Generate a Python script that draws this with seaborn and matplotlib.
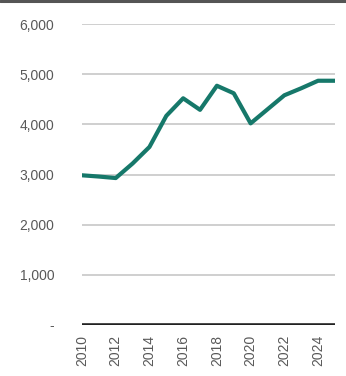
import matplotlib
matplotlib.use("Agg")
import matplotlib.pyplot as plt
import seaborn as sns
import pandas as pd
from matplotlib.lines import Line2D

years = list(range(2010, 2026))
values = [2985, 2960, 2930, 3220, 3550, 4170, 4520, 4290, 4770, 4620, 4020, 4300, 4580, 4720, 4870, 4870]
y_ticks = [0, 1000, 2000, 3000, 4000, 5000, 6000]
y_labels = ["-", "1,000", "2,000", "3,000", "4,000", "5,000", "6,000"]
x_ticks = [2010, 2012, 2014, 2016, 2018, 2020, 2022, 2024]

df = pd.DataFrame({"year": years, "value": values})

sns.set_theme(style="white")
plt.rcParams["font.family"] = ["Liberation Sans", "DejaVu Sans"]

fig = plt.figure(figsize=(3.46, 3.76), dpi=100)
ax = fig.add_axes([0.237, 0.1356, 0.731, 0.8004])

for t in y_ticks[1:]:
    ax.axhline(t, color="#cfcfcf", lw=1.4, zorder=1)
ax.axhline(0, color="#222222", lw=2.6, zorder=3, solid_capstyle="butt")

sns.lineplot(data=df, x="year", y="value", ax=ax, color="#16786a", lw=3.0, zorder=4)

ax.set_xlim(2010, 2025)
ax.set_ylim(0, 6000)
ax.set_yticks(y_ticks)
ax.set_yticklabels(y_labels)
ax.set_xticks(x_ticks)
ax.set_xticklabels([str(x) for x in x_ticks], rotation=90)
ax.tick_params(axis="y", length=0, pad=20, labelsize=10, labelcolor="#595959")
ax.tick_params(axis="x", length=0, pad=7, labelsize=10, labelcolor="#595959")
ax.set_xlabel("")
ax.set_ylabel("")
for s in ax.spines.values():
    s.set_visible(False)

fig.add_artist(Line2D([0, 1], [0.997, 0.997], transform=fig.transFigure, color="#555555", lw=2.2))

fig.savefig("out.png", dpi=100)
